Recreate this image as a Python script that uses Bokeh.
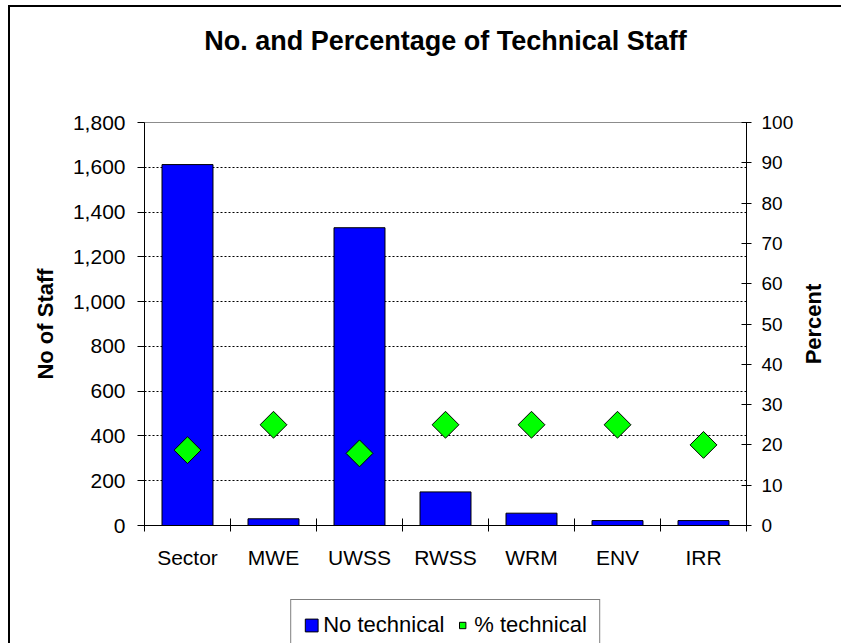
import numpy as np
from bokeh.plotting import figure
from bokeh.layouts import column, row
from bokeh.models import (ColumnDataSource, Range1d, LinearAxis, FixedTicker,
                          NumeralTickFormatter, Legend, LegendItem, Title, Label)
from bokeh.embed import file_html
from bokeh.resources import INLINE

# ---- data ----
categories = ["Sector", "MWE", "UWSS", "RWSS", "WRM", "ENV", "IRR"]
no_technical = [1612, 30, 1330, 150, 55, 22, 22]
pct_technical = [18.7, 25, 17.9, 25, 25, 25, 20]
left_ticks = [0, 200, 400, 600, 800, 1000, 1200, 1400, 1600, 1800]
right_ticks = [0, 10, 20, 30, 40, 50, 60, 70, 80, 90, 100]
title_text = "No. and Percentage of Technical Staff"
left_label = "No of Staff"
right_label = "Percent"
series_names = ["No technical", "% technical"]

FONT = "Liberation Sans"
BAR_STYLE = dict(fill_color="#0000FF", line_color="black", line_width=1)
DIA_STYLE = dict(marker="square", angle=np.pi / 4, fill_color="#00FF00",
                 line_color="black", line_width=1)

xpos = [i + 0.5 for i in range(len(categories))]
src = ColumnDataSource(dict(x=xpos, cat=categories, n=no_technical, pct=pct_technical))

# ---------------- main chart ----------------
p = figure(output_backend="svg", toolbar_location=None, tools="",
           frame_width=602, frame_height=403,
           x_range=Range1d(0, len(categories)), y_range=Range1d(left_ticks[0], left_ticks[-1]),
           min_border_left=134, min_border_right=52, min_border_top=115, min_border_bottom=74)
p.background_fill_color = "white"
p.border_fill_color = "white"
p.outline_line_color = "#8c8c8c"
p.outline_line_width = 1

p.title = Title(text=title_text, align="center", text_font=FONT, text_font_size="27px",
                text_font_style="bold", text_color="black", standoff=10)
# spacer between title and plot area
p.add_layout(Title(text=" ", text_font_size="10px", standoff=49), "above")

# left axis
ya = p.yaxis[0]
ya.ticker = FixedTicker(ticks=left_ticks)
ya.formatter = NumeralTickFormatter(format="0,0")
ya.major_tick_in = 0
ya.major_tick_out = 7
ya.major_label_standoff = 12
ya.major_label_text_font = FONT
ya.major_label_text_font_size = "21px"
ya.major_label_text_color = "black"
ya.axis_label = left_label
ya.axis_label_text_font = FONT
ya.axis_label_text_font_size = "22px"
ya.axis_label_text_font_style = "bold"
ya.axis_label_text_color = "black"
ya.axis_label_standoff = 12
ya.axis_line_color = "black"
ya.major_tick_line_color = "black"

# right axis
p.extra_y_ranges = {"pct": Range1d(right_ticks[0], right_ticks[-1])}
ra = LinearAxis(y_range_name="pct", ticker=FixedTicker(ticks=right_ticks))
ra.major_tick_in = 5
ra.major_tick_out = 5
ra.major_label_standoff = 10
ra.major_label_text_font = FONT
ra.major_label_text_font_size = "19px"
ra.major_label_text_color = "black"
ra.axis_line_color = "black"
p.add_layout(ra, "right")

# x axis (labels at centers, tick marks at category boundaries)
xa = p.xaxis[0]
xa.ticker = FixedTicker(ticks=xpos, minor_ticks=list(range(len(categories) + 1)))
xa.major_label_overrides = {x: c for x, c in zip(xpos, categories)}
xa.major_tick_line_color = None
xa.major_tick_in = 0
xa.major_tick_out = 6
xa.minor_tick_in = 7
xa.minor_tick_out = 6
xa.minor_tick_line_color = "black"
xa.major_label_standoff = 14
xa.major_label_text_font = FONT
xa.major_label_text_font_size = "21px"
xa.major_label_text_color = "black"
xa.axis_line_color = "black"

# grid
p.xgrid.visible = False
p.ygrid.ticker = FixedTicker(ticks=left_ticks[1:-1])
p.ygrid.grid_line_color = "black"
p.ygrid.grid_line_dash = "2 2"
p.ygrid.grid_line_width = 1

p.vbar(x="x", top="n", bottom=0, width=0.593, source=src, **BAR_STYLE)
p.scatter(x="x", y="pct", y_range_name="pct", source=src, size=19, **DIA_STYLE)

# ---------------- right axis title panel ----------------
PW, PH = 43, 592
q = figure(output_backend="svg", toolbar_location=None, tools="",
           frame_width=PW, frame_height=PH, x_range=Range1d(0, PW), y_range=Range1d(0, PH),
           x_axis_type=None, y_axis_type=None,
           min_border_left=0, min_border_right=0, min_border_top=0, min_border_bottom=0)
q.outline_line_color = None
q.grid.visible = False
q.background_fill_color = "white"
q.border_fill_color = "white"
q.add_layout(Label(x=15, y=390.5, text=right_label, angle=np.pi / 2,
                   text_align="center", text_baseline="middle",
                   text_font=FONT, text_font_size="22px",
                   text_font_style="bold", text_color="black"))

# ---------------- legend panel ----------------
LH = 44
lg = figure(output_backend="svg", toolbar_location=None, tools="",
            frame_width=602, frame_height=LH, x_range=Range1d(0, 1), y_range=Range1d(0, 1),
            x_axis_type=None, y_axis_type=None,
            min_border_left=134, min_border_right=95, min_border_top=0, min_border_bottom=0)
lg.outline_line_color = None
lg.grid.visible = False
lg.background_fill_color = "white"
lg.border_fill_color = "white"
# legend-only renderers: one point placed outside the visible range of this panel
dummy = ColumnDataSource(dict(x=[-1.0], y=[-1.0], top=[-1.0]))
r_bar = lg.vbar(x="x", top="top", width=0.5, source=dummy, **BAR_STYLE)
r_dia = lg.scatter(x="x", y="y", size=12, source=dummy, **DIA_STYLE)
legend = Legend(items=[LegendItem(label=series_names[0], renderers=[r_bar]),
                       LegendItem(label=series_names[1], renderers=[r_dia])],
                orientation="horizontal", location="top_center")
legend.label_text_font = FONT
legend.label_text_font_size = "22px"
legend.label_text_color = "black"
legend.label_height = 24
legend.glyph_width = 16
legend.glyph_height = 16
legend.label_standoff = 4
legend.spacing = 10
legend.padding = 12
legend.margin = 0
legend.border_line_color = "black"
legend.border_line_width = 1
legend.background_fill_color = "white"
legend.background_fill_alpha = 1
lg.add_layout(legend)

page = column(row(p, q), lg,
              styles={"margin-left": "8px", "margin-top": "5px",
                      "border-left": "2px solid black", "border-top": "2px solid black"})

open("out.html", "w").write(file_html(page, INLINE))
